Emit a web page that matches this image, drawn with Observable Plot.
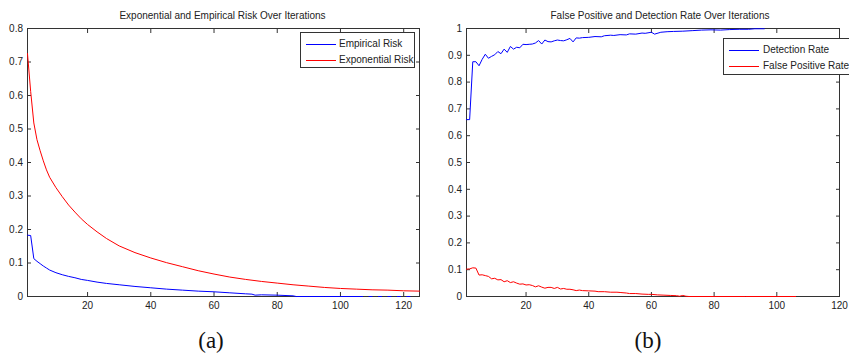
<!DOCTYPE html>
<html>
<head>
<meta charset="utf-8">
<script src="https://cdn.jsdelivr.net/npm/d3@7"></script>
<script src="https://cdn.jsdelivr.net/npm/@observablehq/plot@0.6"></script>
<style>
  body { margin: 0; background: #fff; }
  #wrap { position: relative; width: 849px; height: 359px; overflow: hidden; background: #fff;
          font-family: "Liberation Sans", Arial, Helvetica, sans-serif; color: #222; }
  .panel { position: absolute; top: 0; }
  .legend { position: absolute; border: 1px solid #333; background: #fff; box-sizing: border-box; }
  .legend .sw { position: absolute; left: 5px; width: 30px; height: 0; border-top: 1px solid; }
  .legend .lb { position: absolute; font-size: 10px; line-height: 12px; white-space: nowrap; color: #222; }
  .cap { position: absolute; top: 328px; width: 60px; text-align: center;
         font-family: "Liberation Serif", "DejaVu Serif", serif; font-size: 23px; color: #111; }
</style>
</head>
<body>
<div id="wrap">
  <div id="left" class="panel" style="left:0"></div>
  <div id="right" class="panel" style="left:430px"></div>

  <div class="legend" style="left:300px;top:32px;width:115px;height:36px">
    <div class="sw" style="top:11px;border-color:#0000ff"></div>
    <div class="lb" style="left:38px;top:5px">Empirical Risk</div>
    <div class="sw" style="top:27px;border-color:#ff0000"></div>
    <div class="lb" style="left:38px;top:21px">Exponential Risk</div>
  </div>

  <div class="legend" style="left:723px;top:38px;width:140px;height:37px">
    <div class="sw" style="top:11px;border-color:#0000ff"></div>
    <div class="lb" style="left:39px;top:5px">Detection Rate</div>
    <div class="sw" style="top:27px;border-color:#ff0000"></div>
    <div class="lb" style="left:39px;top:21px">False Positive Rate</div>
  </div>

  <div class="cap" style="left:181px">(a)</div>
  <div class="cap" style="left:618px">(b)</div>
</div>
<script>
// Panel (a): exponential (training) risk and empirical risk per boosting iteration
const riskIter = [1, 2, 3, 4, 5, 6, 7, 8, 10, 12, 14, 16, 18, 20, 23, 26, 30, 35, 40, 45,
  50, 55, 60, 65, 70, 75, 80, 85, 90, 95, 100, 105, 110, 115, 120, 125];
const exponentialRisk = [0.725, 0.612, 0.518, 0.468, 0.435, 0.405, 0.378, 0.356, 0.325, 0.298,
  0.273, 0.252, 0.232, 0.215, 0.193, 0.173, 0.151, 0.131, 0.115, 0.101,
  0.089, 0.077, 0.067, 0.058, 0.051, 0.045, 0.040, 0.035, 0.031, 0.027,
  0.024, 0.022, 0.020, 0.019, 0.017, 0.016];

const empiricalIter = [1, 2, 3, 4, 5, 6, 7, 8, 10, 12, 14, 16, 18, 20, 23, 26, 30, 35, 40, 45,
  50, 55, 60, 65, 70, 72, 73, 75, 80, 85, 86, 90, 95, 100, 107,
  108, 109, 110, 111, 112, 113, 114, 115, 116, 117, 118, 119, 120, 121, 122];
const empiricalRisk = [0.183, 0.182, 0.113, 0.105, 0.098, 0.091, 0.085, 0.079, 0.071, 0.065,
  0.060, 0.056, 0.051, 0.048, 0.043, 0.039, 0.035, 0.030, 0.026, 0.022,
  0.019, 0.016, 0.014, 0.011, 0.008, 0.007, 0.004, 0.005, 0.004, 0.002, 0, 0, 0, 0, 0,
  null, 0, 0, null, 0, 0, null, 0, 0, null, 0, 0, null, 0, 0];

// Panel (b): detection rate and false positive rate per iteration
const rateIter = [1, 2, 3, 4, 5, 6, 7, 8, 9, 10, 11, 12, 13, 14, 15, 16, 17, 18, 19, 20,
  21, 22, 23, 24, 25, 26, 27, 28, 29, 30, 31, 32, 33, 34, 35, 36, 37, 38, 40, 42,
  44, 45, 47, 48, 50, 52, 53, 55, 57, 58, 60, 61, 63, 65, 67, 70, 73, 76, 79, 82,
  85, 88, 91, 93, 96];
const detectionRate = [0.660, 0.660, 0.876, 0.876, 0.861, 0.885, 0.904, 0.889, 0.896, 0.902,
  0.914, 0.906, 0.923, 0.911, 0.933, 0.923, 0.930, 0.928, 0.941, 0.940,
  0.941, 0.942, 0.946, 0.955, 0.942, 0.957, 0.951, 0.950, 0.954, 0.957,
  0.955, 0.954, 0.958, 0.963, 0.950, 0.965, 0.964, 0.966, 0.967, 0.970,
  0.969, 0.973, 0.975, 0.974, 0.977, 0.976, 0.980, 0.979, 0.983, 0.982,
  0.986, 0.979, 0.986, 0.988, 0.989, 0.990, 0.992, 0.994, 0.995, 0.994,
  0.996, 0.997, 0.997, 0.999, 0.999];

const fpIter = [1, 2, 3, 4, 5, 6, 7, 8, 9, 10, 11, 12, 13, 14, 15, 16, 17, 18, 19, 20,
  21, 22, 23, 24, 25, 26, 27, 28, 29, 30, 31, 32, 33, 34, 35, 36, 37, 38, 40, 42,
  43, 45, 47, 49, 50, 52, 53, 55, 57, 59, 60, 62, 64, 66, 68, 69, 70, 71, 72, 80,
  90, 100, 106];
const falsePositiveRate = [0.102, 0.103, 0.107, 0.106, 0.080, 0.081, 0.078, 0.075, 0.066, 0.068,
  0.062, 0.063, 0.055, 0.059, 0.052, 0.055, 0.050, 0.046, 0.047, 0.043,
  0.044, 0.041, 0.036, 0.040, 0.035, 0.031, 0.034, 0.034, 0.030, 0.034,
  0.028, 0.030, 0.027, 0.027, 0.025, 0.022, 0.024, 0.022, 0.021, 0.020,
  0.018, 0.018, 0.016, 0.016, 0.015, 0.013, 0.011, 0.011, 0.009, 0.008,
  0.008, 0.006, 0.005, 0.004, 0.003, 0.001, 0.004, 0.001, 0, 0,
  0, 0, 0];

// Tick values
const xTicks = [20, 40, 60, 80, 100, 120];
const riskTicks = [0, 0.1, 0.2, 0.3, 0.4, 0.5, 0.6, 0.7, 0.8];
const rateTicks = [0, 0.1, 0.2, 0.3, 0.4, 0.5, 0.6, 0.7, 0.8, 0.9, 1];

const BLUE = "#0000ff", RED = "#ff0000", INK = "#333";
const fmt = d => String(+d.toFixed(1));

function panel({width, marginLeft, marginRight, xDomain, yDomain, yTicks, title, titleDx, series}) {
  return Plot.plot({
    width, height: 320,
    marginLeft, marginRight, marginTop: 28, marginBottom: 24,
    style: {background: "transparent", fontFamily: "'Liberation Sans', Arial, sans-serif", fontSize: "10px", color: "#222"},
    x: {domain: xDomain},
    y: {domain: yDomain},
    marks: [
      Plot.frame({stroke: INK}),
      Plot.axisX(xTicks, {anchor: "bottom", tickSize: -4, tickPadding: 9, stroke: INK, label: null, tickFormat: d => String(d)}),
      Plot.axisX(xTicks, {anchor: "top", tickSize: -4, stroke: INK, label: null, tickFormat: () => ""}),
      Plot.axisY(yTicks, {anchor: "left", tickSize: -4, tickPadding: 8.5, stroke: INK, label: null, tickFormat: fmt}),
      Plot.axisY(yTicks, {anchor: "right", tickSize: -4, stroke: INK, label: null, tickFormat: () => ""}),
      ...series.map(s => Plot.line(s.x, {
        x: (d, i) => s.x[i], y: (d, i) => s.y[i], stroke: s.color, strokeWidth: 1
      })),
      Plot.text([title], {frameAnchor: "top", dy: -13, dx: titleDx, lineAnchor: "middle", fontSize: 10, fill: "#222"})
    ]
  });
}

document.getElementById("left").append(panel({
  width: 430, marginLeft: 27, marginRight: 11,
  xDomain: [1, 125], yDomain: [0, 0.8], yTicks: riskTicks,
  title: "Exponential and Empirical Risk Over Iterations", titleDx: -1,
  series: [
    {x: riskIter, y: exponentialRisk, color: RED},
    {x: empiricalIter, y: empiricalRisk, color: BLUE}
  ]
}));

document.getElementById("right").append(panel({
  width: 419, marginLeft: 36, marginRight: 10,
  xDomain: [1, 120], yDomain: [0, 1], yTicks: rateTicks,
  title: "False Positive and Detection Rate Over Iterations", titleDx: 7,
  series: [
    {x: rateIter, y: detectionRate, color: BLUE},
    {x: fpIter, y: falsePositiveRate, color: RED}
  ]
}));
</script>
</body>
</html>
